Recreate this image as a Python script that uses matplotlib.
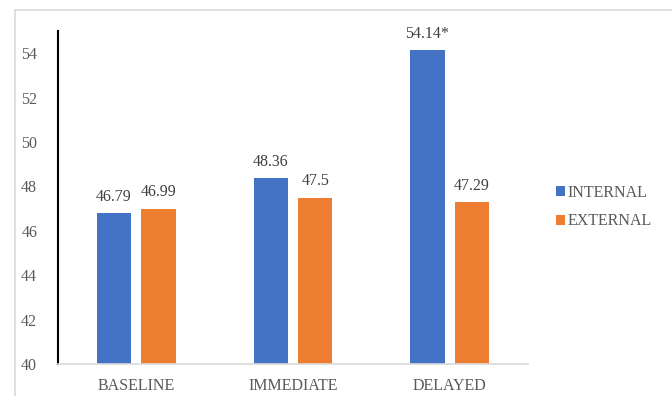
import matplotlib
matplotlib.use("Agg")
import matplotlib.pyplot as plt
import numpy as np
from matplotlib.patches import Rectangle

categories = ["BASELINE", "IMMEDIATE", "DELAYED"]
internal = [46.79, 48.36, 54.14]
external = [46.99, 47.5, 47.29]
internal_labels = ["46.79", "48.36", "54.14*"]
external_labels = ["46.99", "47.5", "47.29"]
yticks = [40, 42, 44, 46, 48, 50, 52, 54]

plt.rcParams['font.family'] = ['Liberation Serif', 'DejaVu Serif']
gray = "#595959"
blue = "#4472C4"
orange = "#ED7D31"
fs = 11.5

fig = plt.figure(figsize=(6.72, 3.96), dpi=100)
# outer chart border
fig.patches.append(Rectangle((15/672, -0.1), 1.2, (396-10)/396 + 0.1,
                             transform=fig.transFigure, fill=False,
                             edgecolor="#d9d9d9", linewidth=1.2))
ax = fig.add_axes([58/672, 32/396, (528-58)/672, (364-31)/396])

x = np.arange(len(categories))
w = 0.22
off = 0.142
ax.bar(x - off, [v - 40 for v in internal], w, bottom=40, color=blue, label="INTERNAL")
ax.bar(x + off, [v - 40 for v in external], w, bottom=40, color=orange, label="EXTERNAL")

for xi, v, t in zip(x - off, internal, internal_labels):
    ax.annotate(t, (xi, v), xytext=(0, 6), textcoords="offset points",
                ha="center", va="bottom", fontsize=fs, color="#404040")
for xi, v, t in zip(x + off, external, external_labels):
    ax.annotate(t, (xi, v), xytext=(0, 6), textcoords="offset points",
                ha="center", va="bottom", fontsize=fs, color="#404040")

ax.set_xlim(-0.5, 2.5)
ax.set_ylim(40, 55)
ax.set_yticks(yticks)
ax.set_yticklabels([str(t) for t in yticks], fontsize=fs, color=gray)
ax.set_xticks(x)
ax.set_xticklabels(categories, fontsize=fs, color=gray)
ax.tick_params(axis="both", length=0)
ax.tick_params(axis="y", pad=15)
ax.tick_params(axis="x", pad=10)
for s in ["top", "right"]:
    ax.spines[s].set_visible(False)
ax.spines["left"].set_color("black")
ax.spines["left"].set_linewidth(1.5)
ax.spines["bottom"].set_color("#d9d9d9")
ax.spines["bottom"].set_linewidth(1.2)

leg = ax.legend(loc="center left", bbox_to_anchor=(556/672, (396-207)/396),
                bbox_transform=fig.transFigure, frameon=False,
                handlelength=0.55, handleheight=0.55, handletextpad=0.15,
                labelspacing=0.8, fontsize=fs, borderaxespad=0, borderpad=0)
for t in leg.get_texts():
    t.set_color(gray)

fig.savefig("out.png", dpi=100)
